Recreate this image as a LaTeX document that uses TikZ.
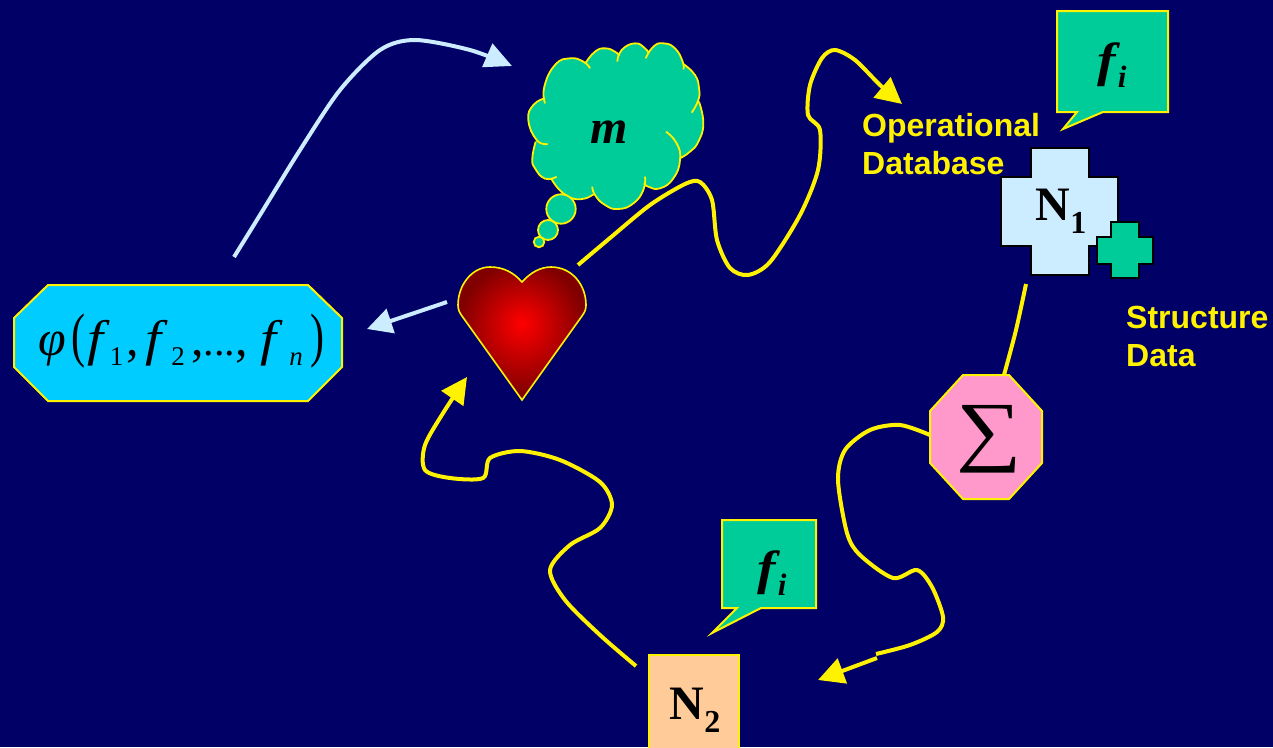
\documentclass[tikz,border=0pt]{standalone}
\usepackage{fontspec}
\setmainfont{Liberation Serif}
\newfontfamily\labelfont{Liberation Sans}
\usetikzlibrary{arrows.meta}
\definecolor{navybg}{HTML}{000066}
\definecolor{seagreen}{HTML}{00CC99}
\definecolor{skyfill}{HTML}{00CCFF}
\definecolor{paleblue}{HTML}{CCECFF}
\definecolor{pinkfill}{HTML}{FF99CC}
\definecolor{peachfill}{HTML}{FFCC99}
\pgfdeclareradialshading{heartglow}{\pgfpoint{0bp}{4bp}}{color(0bp)=(red); color(25bp)=(red!50!black); color(50bp)=(red!50!black)}
\tikzset{
  wander/.style={yellow, line width=4pt},
  wanderhead/.style={-{Triangle[length=26pt,width=26pt]}},
  bumpy/.style={smooth, tension=0.85},
  caption/.style={yellow, inner sep=0pt, align=left, anchor=north west,
    font=\labelfont\bfseries\fontsize{32}{38}\selectfont},
  bubble/.style={fill=seagreen, draw=yellow, line width=2pt},
  tagtext/.style={inner sep=0pt, font=\bfseries\itshape\fontsize{48}{48}\selectfont},
  nametext/.style={inner sep=0pt, font=\bfseries\fontsize{48}{48}\selectfont}
}
% Cloud bumps, typed at three times the size
\newcommand{\cloudbumps}{
  plot[bumpy] coordinates {(135,250) (133,200) (165,135) (210,115) (250,125) (270,145)}
  plot[bumpy] coordinates {(258,127) (285,95) (315,85) (345,95) (358,108)}
  plot[bumpy] coordinates {(352,125) (365,90) (405,70) (435,85) (445,100)}
  plot[bumpy] coordinates {(437,115) (460,80) (490,70) (525,85) (548,125) (550,148)}
  plot[bumpy] coordinates {(550,132) (585,165) (597,205) (595,240) (575,278)}
  plot[bumpy] coordinates {(597,245) (610,310) (595,365) (570,395) (540,415)}
  plot[bumpy] coordinates {(498,335) (530,370) (540,420) (520,475) (480,505) (445,500) (432,490)}
  plot[bumpy] coordinates {(435,470) (430,510) (400,550) (355,567) (315,555) (285,525) (277,500)}
  plot[bumpy] coordinates {(285,520) (240,538) (190,520) (155,478)}
  plot[bumpy] coordinates {(170,470) (135,476) (105,445) (97,415) (107,365)}
  plot[bumpy] coordinates {(143,372) (110,360) (85,300) (100,255) (135,235)}
}
\newcommand{\tagfi}{\scalebox{1.15}[1]{f}\hspace{2pt}\raisebox{-11pt}{\fontsize{31}{31}\selectfont i}}
\newcommand{\wideeff}{\scalebox{1.15}[1]{f}}
\newcommand{\subdigit}[1]{\raisebox{-10pt}{\upshape\fontsize{27}{27}\selectfont #1}}
\newcommand{\bigparen}[1]{\scalebox{0.7}[1]{\upshape\fontsize{60}{60}\selectfont #1}}
\begin{document}
\begin{tikzpicture}[x=1pt, y=-1pt]
  % Background
  \fill[navybg] (0,0) rectangle (1273,747);
  \useasboundingbox (0,0) rectangle (1273,747);
  % Formula box
  \filldraw[fill=skyfill, draw=yellow, line width=2pt]
    (48,285) -- (308,285) -- (342,318) -- (342,367) -- (308,401) -- (48,401) -- (14,367) -- (14,318) -- cycle;
  \node[inner sep=0pt, anchor=base west, font=\itshape\fontsize{50}{50}\selectfont] (formula) at (38,355)
    {φ\hspace{6pt}\bigparen{(}\hspace{2pt}\wideeff\hspace{6pt}\subdigit{1}\hspace{3pt}\upshape,\hspace{7pt}\itshape
     \wideeff\hspace{9.5pt}\subdigit{2}\hspace{6.5pt}\upshape,{\fontsize{42}{42}\selectfont ...},\hspace{12.5pt}\itshape
     \wideeff\hspace{13pt}\raisebox{-10pt}{\fontsize{27}{27}\selectfont n}\hspace{8pt}\bigparen{)}};
  % Heart
  \path[shading=heartglow, draw=yellow, line width=1.6pt]
    (522,282) .. controls (530,273) and (540,267) .. (551,267)
    .. controls (572,267) and (586,285) .. (586,305)
    .. controls (586,309) and (585,312) .. (582,316) -- (522,400) -- (462,316)
    .. controls (459,312) and (458,309) .. (458,305)
    .. controls (458,285) and (472,267) .. (490,267)
    .. controls (504,267) and (514,273) .. (522,282) -- cycle;
  % Thought cloud
  \begin{scope}[shift={(500,20)}, x=1pt/3, y=-1pt/3]
    \fill[seagreen] (135,240) -- (258,127) -- (355,105) -- (443,95) -- (550,135) -- (597,205) -- (597,245)
      -- (608,310) -- (594,365) -- (570,394) -- (540,415) -- (435,495) -- (285,525) -- (155,478) -- (107,365) -- cycle;
    \fill[seagreen] \cloudbumps;
    \draw[yellow, line width=1.8pt] \cloudbumps;
  \end{scope}
  \foreach \cx/\cy/\cr in {561/209/14.7, 548/230/10, 539/242/5.3} {
    \filldraw[fill=seagreen, draw=yellow, line width=1.8pt] (\cx,\cy) circle (\cr pt);
  }
  \node[inner sep=0pt, anchor=base, font=\bfseries\itshape\fontsize{48}{48}\selectfont] (thought) at (609,143) {m};
  % Speech bubbles
  \draw[bubble] (1057,11) -- (1168,11) -- (1168,112) -- (1103,112) -- (1063,129) -- (1077,112) -- (1057,112) -- cycle;
  \node[tagtext, anchor=base] (tagone) at (1112,76) {\tagfi};
  \draw[bubble] (722,520) -- (816,520) -- (816,608) -- (761,608) -- (712,633) -- (737,608) -- (722,608) -- cycle;
  \node[tagtext, anchor=base] (tagtwo) at (772,584) {\tagfi};
  % Node one with its small cross
  \filldraw[fill=paleblue, draw=black, line width=2pt]
    (1031,148) -- (1089,148) -- (1089,177) -- (1118,177) -- (1118,246) -- (1089,246) -- (1089,275)
    -- (1031,275) -- (1031,246) -- (1001,246) -- (1001,177) -- (1031,177) -- cycle;
  \node[nametext, anchor=base] (nodeone) at (1061,220) {N\raisebox{-13pt}{\fontsize{32}{32}\selectfont 1}};
  \filldraw[fill=seagreen, draw=black, line width=2pt]
    (1111,222) -- (1139,222) -- (1139,237) -- (1153,237) -- (1153,264) -- (1139,264) -- (1139,278)
    -- (1111,278) -- (1111,264) -- (1097,264) -- (1097,237) -- (1111,237) -- cycle;
  % Node two and the sum
  \node[fill=peachfill, draw=yellow, line width=2pt, minimum width=90pt, minimum height=120pt] (nodetwo) at (694,715) {};
  \node[nametext, anchor=base] (nodetwotext) at (695,719) {N\raisebox{-13pt}{\fontsize{32}{32}\selectfont 2}};
  \filldraw[fill=pinkfill, draw=yellow, line width=2pt]
    (963,375) -- (1009,375) -- (1042,411) -- (1042,463) -- (1009,499) -- (963,499) -- (930,463) -- (930,411) -- cycle;
  \node[inner sep=0pt, font=\fontsize{78}{78}\selectfont] (sum) at (989,439) {\scalebox{1.18}[1]{∑}};
  % Labels
  \node[caption] (operational) at (862,113) {Operational\\Database};
  \node[caption] (structure) at (1126,306) {Structure\\Data};
  % Connector ends
  \coordinate (cloudfrom) at (234,257);
  \coordinate (cloudto) at (512,66);
  \coordinate (formulafrom) at (447,302);
  \coordinate (formulato) at (367,329);
  \coordinate (dbfrom) at (578,265);
  \coordinate (dbto) at (902,104);
  \coordinate (oneout) at (1026,284);
  \coordinate (sumin) at (1004,375);
  \coordinate (sumout) at (930,435);
  \coordinate (breakone) at (876,654);
  \coordinate (breaktwo) at (877,658);
  \coordinate (twoin) at (818,680);
  \coordinate (twoout) at (636,666);
  \coordinate (heartin) at (467,377);
  % Connectors
  \draw[paleblue, line width=4pt, -{Triangle[length=27pt,width=25pt]}] plot[smooth] coordinates
    {(cloudfrom) (260,215) (300,150) (340,90) (380,50) (415,40) (470,50) (cloudto)};
  \draw[paleblue, line width=4pt, -{Triangle[length=25pt,width=25pt]}] (formulafrom) -- (formulato);
  \draw[wander, wanderhead] plot[smooth] coordinates
    {(dbfrom) (610,238) (650,205) (685,184) (700,182) (712,200) (717,240) (730,268) (748,275)
     (770,262) (800,215) (818,170) (820,130) (808,115) (810,85) (822,58) (835,50) (855,60) (880,85) (dbto)};
  \draw[wander] plot[smooth] coordinates {(oneout) (1016,330) (sumin)};
  \draw[wander] plot[smooth] coordinates
    {(sumout) (900,425) (870,430) (845,450) (838,480) (847,533) (860,555) (893,578) (917,570)
     (932,587) (943,617) (937,632) (910,645) (breakone)};
  \draw[wander, wanderhead] (breaktwo) -- (twoin);
  \draw[wander, wanderhead] plot[smooth] coordinates
    {(twoout) (600,635) (565,600) (550,570) (570,545) (600,528) (612,505) (600,482) (560,460)
     (520,451) (490,458) (483,478) (450,478) (425,470) (425,445) (445,410) (heartin)};
\end{tikzpicture}
\end{document}
